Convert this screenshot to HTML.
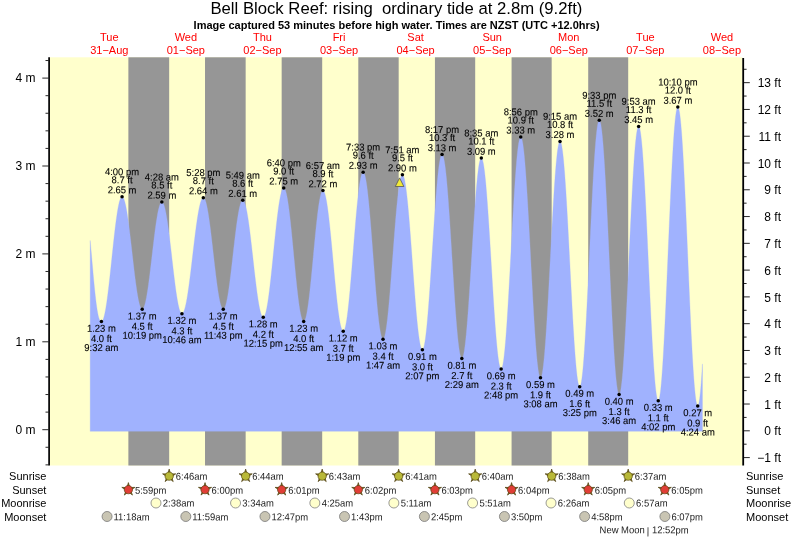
<!DOCTYPE html>
<html lang="en"><head><meta charset="utf-8"><title>Bell Block Reef tide chart</title>
<style>html,body{margin:0;padding:0;background:#fff;}body{width:793px;height:539px;overflow:hidden;font-family:"Liberation Sans",Arial,Helvetica,sans-serif;}svg{display:block;}</style>
</head><body>
<svg width="793" height="539" viewBox="0 0 793 539">
<rect x="0" y="0" width="793" height="539" fill="#fff"/>
<rect x="49.5" y="57.3" width="693.0" height="408.2" fill="#ffffcc"/>
<rect x="128.38" y="57.3" width="40.79" height="408.2" fill="#969696"/>
<rect x="205.02" y="57.3" width="40.63" height="408.2" fill="#969696"/>
<rect x="281.66" y="57.3" width="40.53" height="408.2" fill="#969696"/>
<rect x="358.30" y="57.3" width="40.37" height="408.2" fill="#969696"/>
<rect x="434.93" y="57.3" width="40.26" height="408.2" fill="#969696"/>
<rect x="511.57" y="57.3" width="40.10" height="408.2" fill="#969696"/>
<rect x="588.21" y="57.3" width="39.99" height="408.2" fill="#969696"/>
<path d="M90.20,431.3 L90.20,240.50 L90.45,243.26 L90.70,246.06 L90.95,248.88 L91.20,251.73 L91.45,254.59 L91.70,257.46 L91.95,260.33 L92.20,263.19 L92.45,266.04 L92.70,268.87 L92.95,271.68 L93.20,274.45 L93.45,277.19 L93.70,279.88 L93.95,282.53 L94.20,285.11 L94.45,287.64 L94.70,290.10 L94.95,292.49 L95.20,294.81 L95.45,297.04 L95.70,299.19 L95.95,301.25 L96.20,303.22 L96.45,305.10 L96.70,306.88 L96.95,308.55 L97.20,310.13 L97.45,311.60 L97.70,312.97 L97.95,314.23 L98.20,315.39 L98.45,316.44 L98.70,317.39 L98.95,318.23 L99.20,318.96 L99.45,319.60 L99.70,320.14 L99.95,320.58 L100.20,320.94 L100.45,321.21 L100.70,321.40 L100.95,321.51 L101.20,321.57 L101.45,321.58 L101.70,321.53 L101.95,321.38 L102.20,321.14 L102.45,320.82 L102.70,320.40 L102.95,319.90 L103.20,319.31 L103.45,318.63 L103.70,317.86 L103.95,317.01 L104.20,316.08 L104.45,315.06 L104.70,313.97 L104.95,312.79 L105.20,311.54 L105.45,310.21 L105.70,308.80 L105.95,307.33 L106.20,305.78 L106.45,304.17 L106.70,302.49 L106.95,300.75 L107.20,298.95 L107.45,297.09 L107.70,295.17 L107.95,293.21 L108.20,291.19 L108.45,289.13 L108.70,287.02 L108.95,284.88 L109.20,282.70 L109.45,280.48 L109.70,278.23 L109.95,275.96 L110.20,273.66 L110.45,271.34 L110.70,269.00 L110.95,266.65 L111.20,264.28 L111.45,261.91 L111.70,259.54 L111.95,257.16 L112.20,254.79 L112.45,252.43 L112.70,250.07 L112.95,247.73 L113.20,245.40 L113.45,243.10 L113.70,240.81 L113.95,238.56 L114.20,236.33 L114.45,234.14 L114.70,231.98 L114.95,229.86 L115.20,227.79 L115.45,225.76 L115.70,223.77 L115.95,221.84 L116.20,219.97 L116.45,218.15 L116.70,216.39 L116.95,214.69 L117.20,213.06 L117.45,211.49 L117.70,209.99 L117.95,208.57 L118.20,207.21 L118.45,205.94 L118.70,204.74 L118.95,203.61 L119.20,202.57 L119.45,201.61 L119.70,200.74 L119.95,199.95 L120.20,199.24 L120.45,198.62 L120.70,198.09 L120.95,197.65 L121.20,197.29 L121.45,197.03 L121.70,196.86 L121.95,196.77 L122.20,196.78 L122.45,196.87 L122.70,197.05 L122.95,197.31 L123.20,197.66 L123.45,198.09 L123.70,198.60 L123.95,199.20 L124.20,199.88 L124.45,200.64 L124.70,201.47 L124.95,202.39 L125.20,203.39 L125.45,204.45 L125.70,205.60 L125.95,206.81 L126.20,208.10 L126.45,209.45 L126.70,210.87 L126.95,212.35 L127.20,213.90 L127.45,215.50 L127.70,217.16 L127.95,218.88 L128.20,220.65 L128.45,222.46 L128.70,224.33 L128.95,226.23 L129.20,228.18 L129.45,230.17 L129.70,232.19 L129.95,234.24 L130.20,236.32 L130.45,238.42 L130.70,240.55 L130.95,242.70 L131.20,244.86 L131.45,247.03 L131.70,249.22 L131.95,251.41 L132.20,253.60 L132.45,255.79 L132.70,257.98 L132.95,260.15 L133.20,262.32 L133.45,264.48 L133.70,266.61 L133.95,268.73 L134.20,270.82 L134.45,272.89 L134.70,274.92 L134.95,276.92 L135.20,278.89 L135.45,280.82 L135.70,282.70 L135.95,284.54 L136.20,286.33 L136.45,288.07 L136.70,289.76 L136.95,291.39 L137.20,292.96 L137.45,294.48 L137.70,295.93 L137.95,297.31 L138.20,298.63 L138.45,299.88 L138.70,301.06 L138.95,302.16 L139.20,303.19 L139.45,304.14 L139.70,305.02 L139.95,305.82 L140.20,306.53 L140.45,307.17 L140.70,307.72 L140.95,308.19 L141.20,308.58 L141.45,308.88 L141.70,309.10 L141.95,309.23 L142.20,309.28 L142.45,309.24 L142.70,309.11 L142.95,308.90 L143.20,308.61 L143.45,308.23 L143.70,307.76 L143.95,307.22 L144.20,306.59 L144.45,305.87 L144.70,305.08 L144.95,304.21 L145.20,303.26 L145.45,302.24 L145.70,301.14 L145.95,299.96 L146.20,298.72 L146.45,297.41 L146.70,296.03 L146.95,294.58 L147.20,293.08 L147.45,291.51 L147.70,289.88 L147.95,288.21 L148.20,286.48 L148.45,284.69 L148.70,282.87 L148.95,281.00 L149.20,279.09 L149.45,277.14 L149.70,275.16 L149.95,273.14 L150.20,271.10 L150.45,269.03 L150.70,266.94 L150.95,264.84 L151.20,262.72 L151.45,260.58 L151.70,258.44 L151.95,256.30 L152.20,254.15 L152.45,252.01 L152.70,249.87 L152.95,247.75 L153.20,245.63 L153.45,243.53 L153.70,241.45 L153.95,239.39 L154.20,237.36 L154.45,235.36 L154.70,233.39 L154.95,231.46 L155.20,229.56 L155.45,227.71 L155.70,225.90 L155.95,224.14 L156.20,222.43 L156.45,220.77 L156.70,219.17 L156.95,217.63 L157.20,216.15 L157.45,214.73 L157.70,213.37 L157.95,212.09 L158.20,210.87 L158.45,209.73 L158.70,208.66 L158.95,207.66 L159.20,206.75 L159.45,205.91 L159.70,205.15 L159.95,204.47 L160.20,203.87 L160.45,203.36 L160.70,202.92 L160.95,202.58 L161.20,202.32 L161.45,202.14 L161.70,202.05 L161.95,202.05 L162.20,202.13 L162.45,202.29 L162.70,202.55 L162.95,202.88 L163.20,203.30 L163.45,203.80 L163.70,204.39 L163.95,205.05 L164.20,205.80 L164.45,206.63 L164.70,207.53 L164.95,208.51 L165.20,209.57 L165.45,210.70 L165.70,211.90 L165.95,213.18 L166.20,214.52 L166.45,215.92 L166.70,217.40 L166.95,218.93 L167.20,220.52 L167.45,222.17 L167.70,223.87 L167.95,225.63 L168.20,227.43 L168.45,229.28 L168.70,231.18 L168.95,233.11 L169.20,235.09 L169.45,237.09 L169.70,239.13 L169.95,241.20 L170.20,243.30 L170.45,245.41 L170.70,247.55 L170.95,249.70 L171.20,251.86 L171.45,254.03 L171.70,256.21 L171.95,258.39 L172.20,260.57 L172.45,262.74 L172.70,264.91 L172.95,267.07 L173.20,269.21 L173.45,271.34 L173.70,273.44 L173.95,275.53 L174.20,277.58 L174.45,279.60 L174.70,281.60 L174.95,283.55 L175.20,285.47 L175.45,287.34 L175.70,289.17 L175.95,290.95 L176.20,292.68 L176.45,294.36 L176.70,295.98 L176.95,297.54 L177.20,299.04 L177.45,300.48 L177.70,301.86 L177.95,303.17 L178.20,304.40 L178.45,305.57 L178.70,306.67 L178.95,307.69 L179.20,308.63 L179.45,309.50 L179.70,310.29 L179.95,310.99 L180.20,311.62 L180.45,312.16 L180.70,312.63 L180.95,313.00 L181.20,313.30 L181.45,313.51 L181.70,313.63 L181.95,313.67 L182.20,313.63 L182.45,313.51 L182.70,313.31 L182.95,313.03 L183.20,312.68 L183.45,312.25 L183.70,311.74 L183.95,311.16 L184.20,310.50 L184.45,309.77 L184.70,308.97 L184.95,308.09 L185.20,307.14 L185.45,306.13 L185.70,305.04 L185.95,303.89 L186.20,302.67 L186.45,301.39 L186.70,300.05 L186.95,298.65 L187.20,297.19 L187.45,295.68 L187.70,294.11 L187.95,292.48 L188.20,290.81 L188.45,289.09 L188.70,287.33 L188.95,285.52 L189.20,283.68 L189.45,281.79 L189.70,279.87 L189.95,277.92 L190.20,275.94 L190.45,273.93 L190.70,271.89 L190.95,269.84 L191.20,267.76 L191.45,265.67 L191.70,263.56 L191.95,261.45 L192.20,259.32 L192.45,257.19 L192.70,255.06 L192.95,252.93 L193.20,250.81 L193.45,248.69 L193.70,246.58 L193.95,244.48 L194.20,242.39 L194.45,240.33 L194.70,238.28 L194.95,236.26 L195.20,234.27 L195.45,232.30 L195.70,230.37 L195.95,228.47 L196.20,226.60 L196.45,224.78 L196.70,223.00 L196.95,221.26 L197.20,219.56 L197.45,217.92 L197.70,216.33 L197.95,214.79 L198.20,213.30 L198.45,211.88 L198.70,210.51 L198.95,209.20 L199.20,207.96 L199.45,206.77 L199.70,205.66 L199.95,204.61 L200.20,203.64 L200.45,202.73 L200.70,201.89 L200.95,201.13 L201.20,200.44 L201.45,199.82 L201.70,199.28 L201.95,198.82 L202.20,198.43 L202.45,198.12 L202.70,197.88 L202.95,197.73 L203.20,197.65 L203.45,197.66 L203.70,197.74 L203.95,197.92 L204.20,198.18 L204.45,198.53 L204.70,198.96 L204.95,199.47 L205.20,200.07 L205.45,200.76 L205.70,201.52 L205.95,202.37 L206.20,203.29 L206.45,204.29 L206.70,205.37 L206.95,206.52 L207.20,207.75 L207.45,209.04 L207.70,210.41 L207.95,211.84 L208.20,213.34 L208.45,214.90 L208.70,216.52 L208.95,218.19 L209.20,219.92 L209.45,221.70 L209.70,223.54 L209.95,225.41 L210.20,227.34 L210.45,229.30 L210.70,231.30 L210.95,233.33 L211.20,235.40 L211.45,237.49 L211.70,239.61 L211.95,241.75 L212.20,243.91 L212.45,246.08 L212.70,248.26 L212.95,250.45 L213.20,252.65 L213.45,254.85 L213.70,257.05 L213.95,259.24 L214.20,261.42 L214.45,263.59 L214.70,265.74 L214.95,267.87 L215.20,269.98 L215.45,272.07 L215.70,274.13 L215.95,276.15 L216.20,278.14 L216.45,280.10 L216.70,282.01 L216.95,283.87 L217.20,285.69 L217.45,287.46 L217.70,289.18 L217.95,290.84 L218.20,292.44 L218.45,293.98 L218.70,295.46 L218.95,296.88 L219.20,298.23 L219.45,299.50 L219.70,300.71 L219.95,301.84 L220.20,302.90 L220.45,303.88 L220.70,304.79 L220.95,305.61 L221.20,306.35 L221.45,307.01 L221.70,307.59 L221.95,308.09 L222.20,308.50 L222.45,308.82 L222.70,309.06 L222.95,309.21 L223.20,309.27 L223.45,309.25 L223.70,309.14 L223.95,308.94 L224.20,308.66 L224.45,308.28 L224.70,307.82 L224.95,307.27 L225.20,306.64 L225.45,305.92 L225.70,305.12 L225.95,304.24 L226.20,303.27 L226.45,302.23 L226.70,301.11 L226.95,299.91 L227.20,298.64 L227.45,297.30 L227.70,295.90 L227.95,294.42 L228.20,292.88 L228.45,291.28 L228.70,289.61 L228.95,287.89 L229.20,286.12 L229.45,284.30 L229.70,282.43 L229.95,280.51 L230.20,278.55 L230.45,276.55 L230.70,274.52 L230.95,272.45 L231.20,270.36 L231.45,268.24 L231.70,266.10 L231.95,263.94 L232.20,261.76 L232.45,259.58 L232.70,257.39 L232.95,255.19 L233.20,252.99 L233.45,250.79 L233.70,248.60 L233.95,246.42 L234.20,244.26 L234.45,242.11 L234.70,239.98 L234.95,237.88 L235.20,235.80 L235.45,233.76 L235.70,231.75 L235.95,229.77 L236.20,227.84 L236.45,225.95 L236.70,224.11 L236.95,222.32 L237.20,220.58 L237.45,218.89 L237.70,217.27 L237.95,215.70 L238.20,214.20 L238.45,212.77 L238.70,211.40 L238.95,210.11 L239.20,208.88 L239.45,207.74 L239.70,206.66 L239.95,205.67 L240.20,204.76 L240.45,203.93 L240.70,203.18 L240.95,202.51 L241.20,201.93 L241.45,201.44 L241.70,201.03 L241.95,200.71 L242.20,200.48 L242.45,200.34 L242.70,200.28 L242.95,200.31 L243.20,200.43 L243.45,200.64 L243.70,200.93 L243.95,201.30 L244.20,201.76 L244.45,202.30 L244.70,202.92 L244.95,203.63 L245.20,204.41 L245.45,205.28 L245.70,206.22 L245.95,207.24 L246.20,208.34 L246.45,209.50 L246.70,210.75 L246.95,212.06 L247.20,213.44 L247.45,214.88 L247.70,216.39 L247.95,217.97 L248.20,219.60 L248.45,221.29 L248.70,223.03 L248.95,224.83 L249.20,226.68 L249.45,228.57 L249.70,230.51 L249.95,232.48 L250.20,234.50 L250.45,236.55 L250.70,238.64 L250.95,240.75 L251.20,242.89 L251.45,245.06 L251.70,247.24 L251.95,249.44 L252.20,251.65 L252.45,253.88 L252.70,256.11 L252.95,258.35 L253.20,260.58 L253.45,262.82 L253.70,265.04 L253.95,267.26 L254.20,269.47 L254.45,271.66 L254.70,273.83 L254.95,275.98 L255.20,278.10 L255.45,280.20 L255.70,282.26 L255.95,284.29 L256.20,286.28 L256.45,288.23 L256.70,290.14 L256.95,292.00 L257.20,293.82 L257.45,295.58 L257.70,297.29 L257.95,298.94 L258.20,300.54 L258.45,302.07 L258.70,303.54 L258.95,304.94 L259.20,306.28 L259.45,307.54 L259.70,308.74 L259.95,309.86 L260.20,310.90 L260.45,311.87 L260.70,312.77 L260.95,313.58 L261.20,314.31 L261.45,314.97 L261.70,315.53 L261.95,316.02 L262.20,316.42 L262.45,316.74 L262.70,316.98 L262.95,317.12 L263.20,317.19 L263.45,317.16 L263.70,317.04 L263.95,316.82 L264.20,316.51 L264.45,316.11 L264.70,315.61 L264.95,315.02 L265.20,314.34 L265.45,313.57 L265.70,312.71 L265.95,311.75 L266.20,310.72 L266.45,309.59 L266.70,308.38 L266.95,307.10 L267.20,305.73 L267.45,304.28 L267.70,302.75 L267.95,301.16 L268.20,299.49 L268.45,297.75 L268.70,295.94 L268.95,294.07 L269.20,292.15 L269.45,290.16 L269.70,288.11 L269.95,286.02 L270.20,283.87 L270.45,281.68 L270.70,279.45 L270.95,277.18 L271.20,274.87 L271.45,272.53 L271.70,270.16 L271.95,267.76 L272.20,265.34 L272.45,262.90 L272.70,260.45 L272.95,257.98 L273.20,255.51 L273.45,253.03 L273.70,250.56 L273.95,248.08 L274.20,245.61 L274.45,243.15 L274.70,240.71 L274.95,238.28 L275.20,235.88 L275.45,233.50 L275.70,231.14 L275.95,228.82 L276.20,226.54 L276.45,224.29 L276.70,222.08 L276.95,219.92 L277.20,217.81 L277.45,215.74 L277.70,213.74 L277.95,211.78 L278.20,209.89 L278.45,208.06 L278.70,206.30 L278.95,204.61 L279.20,202.98 L279.45,201.43 L279.70,199.96 L279.95,198.56 L280.20,197.24 L280.45,196.00 L280.70,194.85 L280.95,193.78 L281.20,192.79 L281.45,191.90 L281.70,191.09 L281.95,190.38 L282.20,189.75 L282.45,189.22 L282.70,188.79 L282.95,188.44 L283.20,188.19 L283.45,188.04 L283.70,187.98 L283.95,188.01 L284.20,188.16 L284.45,188.40 L284.70,188.75 L284.95,189.20 L285.20,189.75 L285.45,190.40 L285.70,191.16 L285.95,192.01 L286.20,192.95 L286.45,194.00 L286.70,195.14 L286.95,196.37 L287.20,197.69 L287.45,199.10 L287.70,200.60 L287.95,202.18 L288.20,203.84 L288.45,205.58 L288.70,207.40 L288.95,209.29 L289.20,211.25 L289.45,213.28 L289.70,215.37 L289.95,217.53 L290.20,219.74 L290.45,222.01 L290.70,224.32 L290.95,226.69 L291.20,229.10 L291.45,231.54 L291.70,234.03 L291.95,236.54 L292.20,239.09 L292.45,241.66 L292.70,244.25 L292.95,246.85 L293.20,249.47 L293.45,252.09 L293.70,254.72 L293.95,257.35 L294.20,259.98 L294.45,262.60 L294.70,265.20 L294.95,267.79 L295.20,270.36 L295.45,272.91 L295.70,275.43 L295.95,277.91 L296.20,280.36 L296.45,282.77 L296.70,285.14 L296.95,287.46 L297.20,289.73 L297.45,291.94 L297.70,294.10 L297.95,296.19 L298.20,298.22 L298.45,300.19 L298.70,302.08 L298.95,303.90 L299.20,305.65 L299.45,307.31 L299.70,308.90 L299.95,310.40 L300.20,311.81 L300.45,313.14 L300.70,314.37 L300.95,315.51 L301.20,316.56 L301.45,317.51 L301.70,318.37 L301.95,319.13 L302.20,319.78 L302.45,320.34 L302.70,320.79 L302.95,321.15 L303.20,321.39 L303.45,321.54 L303.70,321.58 L303.95,321.52 L304.20,321.34 L304.45,321.06 L304.70,320.67 L304.95,320.18 L305.20,319.57 L305.45,318.86 L305.70,318.05 L305.95,317.13 L306.20,316.11 L306.45,314.99 L306.70,313.78 L306.95,312.46 L307.20,311.06 L307.45,309.56 L307.70,307.97 L307.95,306.30 L308.20,304.54 L308.45,302.71 L308.70,300.79 L308.95,298.80 L309.20,296.74 L309.45,294.61 L309.70,292.42 L309.95,290.17 L310.20,287.86 L310.45,285.50 L310.70,283.09 L310.95,280.63 L311.20,278.13 L311.45,275.60 L311.70,273.04 L311.95,270.44 L312.20,267.82 L312.45,265.19 L312.70,262.53 L312.95,259.87 L313.20,257.20 L313.45,254.53 L313.70,251.86 L313.95,249.20 L314.20,246.55 L314.45,243.92 L314.70,241.30 L314.95,238.71 L315.20,236.15 L315.45,233.62 L315.70,231.13 L315.95,228.69 L316.20,226.28 L316.45,223.93 L316.70,221.63 L316.95,219.39 L317.20,217.21 L317.45,215.09 L317.70,213.04 L317.95,211.07 L318.20,209.16 L318.45,207.34 L318.70,205.60 L318.95,203.94 L319.20,202.37 L319.45,200.89 L319.70,199.50 L319.95,198.20 L320.20,197.00 L320.45,195.90 L320.70,194.90 L320.95,194.00 L321.20,193.20 L321.45,192.51 L321.70,191.93 L321.95,191.45 L322.20,191.08 L322.45,190.81 L322.70,190.66 L322.95,190.61 L323.20,190.67 L323.45,190.84 L323.70,191.11 L323.95,191.49 L324.20,191.96 L324.45,192.55 L324.70,193.23 L324.95,194.02 L325.20,194.90 L325.45,195.89 L325.70,196.97 L325.95,198.14 L326.20,199.42 L326.45,200.78 L326.70,202.23 L326.95,203.77 L327.20,205.40 L327.45,207.10 L327.70,208.89 L327.95,210.76 L328.20,212.70 L328.45,214.72 L328.70,216.80 L328.95,218.95 L329.20,221.16 L329.45,223.43 L329.70,225.76 L329.95,228.14 L330.20,230.57 L330.45,233.04 L330.70,235.56 L330.95,238.11 L331.20,240.70 L331.45,243.32 L331.70,245.96 L331.95,248.63 L332.20,251.31 L332.45,254.01 L332.70,256.72 L332.95,259.44 L333.20,262.16 L333.45,264.87 L333.70,267.58 L333.95,270.28 L334.20,272.97 L334.45,275.64 L334.70,278.29 L334.95,280.91 L335.20,283.50 L335.45,286.05 L335.70,288.57 L335.95,291.05 L336.20,293.49 L336.45,295.87 L336.70,298.20 L336.95,300.48 L337.20,302.70 L337.45,304.85 L337.70,306.94 L337.95,308.96 L338.20,310.91 L338.45,312.79 L338.70,314.58 L338.95,316.30 L339.20,317.94 L339.45,319.48 L339.70,320.95 L339.95,322.32 L340.20,323.60 L340.45,324.78 L340.70,325.87 L340.95,326.87 L341.20,327.76 L341.45,328.56 L341.70,329.25 L341.95,329.85 L342.20,330.34 L342.45,330.72 L342.70,331.00 L342.95,331.18 L343.20,331.25 L343.45,331.21 L343.70,331.05 L343.95,330.76 L344.20,330.35 L344.45,329.82 L344.70,329.16 L344.95,328.39 L345.20,327.49 L345.45,326.48 L345.70,325.35 L345.95,324.10 L346.20,322.75 L346.45,321.28 L346.70,319.70 L346.95,318.02 L347.20,316.23 L347.45,314.35 L347.70,312.36 L347.95,310.28 L348.20,308.11 L348.45,305.86 L348.70,303.51 L348.95,301.09 L349.20,298.59 L349.45,296.02 L349.70,293.37 L349.95,290.67 L350.20,287.90 L350.45,285.07 L350.70,282.20 L350.95,279.27 L351.20,276.31 L351.45,273.30 L351.70,270.26 L351.95,267.19 L352.20,264.10 L352.45,260.99 L352.70,257.86 L352.95,254.73 L353.20,251.59 L353.45,248.45 L353.70,245.31 L353.95,242.19 L354.20,239.08 L354.45,235.99 L354.70,232.92 L354.95,229.88 L355.20,226.88 L355.45,223.92 L355.70,220.99 L355.95,218.12 L356.20,215.30 L356.45,212.54 L356.70,209.83 L356.95,207.20 L357.20,204.63 L357.45,202.13 L357.70,199.72 L357.95,197.38 L358.20,195.13 L358.45,192.96 L358.70,190.89 L358.95,188.92 L359.20,187.04 L359.45,185.26 L359.70,183.58 L359.95,182.01 L360.20,180.55 L360.45,179.21 L360.70,177.97 L360.95,176.85 L361.20,175.84 L361.45,174.96 L361.70,174.19 L361.95,173.54 L362.20,173.02 L362.45,172.62 L362.70,172.34 L362.95,172.19 L363.20,172.16 L363.45,172.26 L363.70,172.48 L363.95,172.84 L364.20,173.33 L364.45,173.94 L364.70,174.69 L364.95,175.56 L365.20,176.55 L365.45,177.67 L365.70,178.91 L365.95,180.27 L366.20,181.74 L366.45,183.33 L366.70,185.04 L366.95,186.85 L367.20,188.77 L367.45,190.80 L367.70,192.93 L367.95,195.15 L368.20,197.47 L368.45,199.88 L368.70,202.37 L368.95,204.95 L369.20,207.61 L369.45,210.35 L369.70,213.15 L369.95,216.02 L370.20,218.95 L370.45,221.94 L370.70,224.99 L370.95,228.08 L371.20,231.21 L371.45,234.38 L371.70,237.58 L371.95,240.82 L372.20,244.07 L372.45,247.35 L372.70,250.63 L372.95,253.93 L373.20,257.22 L373.45,260.52 L373.70,263.80 L373.95,267.08 L374.20,270.34 L374.45,273.57 L374.70,276.77 L374.95,279.95 L375.20,283.08 L375.45,286.17 L375.70,289.22 L375.95,292.21 L376.20,295.15 L376.45,298.02 L376.70,300.83 L376.95,303.57 L377.20,306.23 L377.45,308.81 L377.70,311.31 L377.95,313.73 L378.20,316.05 L378.45,318.28 L378.70,320.41 L378.95,322.44 L379.20,324.37 L379.45,326.19 L379.70,327.90 L379.95,329.50 L380.20,330.98 L380.45,332.34 L380.70,333.59 L380.95,334.71 L381.20,335.71 L381.45,336.59 L381.70,337.34 L381.95,337.96 L382.20,338.45 L382.45,338.82 L382.70,339.05 L382.95,339.16 L383.20,339.13 L383.45,338.97 L383.70,338.67 L383.95,338.24 L384.20,337.68 L384.45,336.98 L384.70,336.15 L384.95,335.19 L385.20,334.10 L385.45,332.89 L385.70,331.55 L385.95,330.09 L386.20,328.50 L386.45,326.80 L386.70,324.99 L386.95,323.06 L387.20,321.02 L387.45,318.88 L387.70,316.64 L387.95,314.30 L388.20,311.86 L388.45,309.33 L388.70,306.72 L388.95,304.03 L389.20,301.26 L389.45,298.41 L389.70,295.50 L389.95,292.52 L390.20,289.49 L390.45,286.40 L390.70,283.26 L390.95,280.08 L391.20,276.86 L391.45,273.61 L391.70,270.33 L391.95,267.03 L392.20,263.72 L392.45,260.39 L392.70,257.06 L392.95,253.72 L393.20,250.39 L393.45,247.08 L393.70,243.78 L393.95,240.50 L394.20,237.24 L394.45,234.03 L394.70,230.84 L394.95,227.70 L395.20,224.61 L395.45,221.58 L395.70,218.60 L395.95,215.68 L396.20,212.83 L396.45,210.06 L396.70,207.36 L396.95,204.74 L397.20,202.21 L397.45,199.77 L397.70,197.42 L397.95,195.18 L398.20,193.03 L398.45,190.99 L398.70,189.06 L398.95,187.23 L399.20,185.53 L399.45,183.94 L399.70,182.47 L399.95,181.13 L400.20,179.90 L400.45,178.81 L400.70,177.84 L400.95,177.01 L401.20,176.31 L401.45,175.73 L401.70,175.30 L401.95,175.00 L402.20,174.83 L402.45,174.79 L402.70,174.90 L402.95,175.13 L403.20,175.51 L403.45,176.01 L403.70,176.65 L403.95,177.42 L404.20,178.32 L404.45,179.35 L404.70,180.51 L404.95,181.79 L405.20,183.20 L405.45,184.73 L405.70,186.38 L405.95,188.15 L406.20,190.03 L406.45,192.02 L406.70,194.13 L406.95,196.33 L407.20,198.64 L407.45,201.05 L407.70,203.55 L407.95,206.14 L408.20,208.81 L408.45,211.57 L408.70,214.41 L408.95,217.32 L409.20,220.31 L409.45,223.35 L409.70,226.46 L409.95,229.62 L410.20,232.83 L410.45,236.09 L410.70,239.38 L410.95,242.72 L411.20,246.08 L411.45,249.47 L411.70,252.87 L411.95,256.29 L412.20,259.73 L412.45,263.16 L412.70,266.59 L412.95,270.02 L413.20,273.43 L413.45,276.83 L413.70,280.21 L413.95,283.55 L414.20,286.87 L414.45,290.14 L414.70,293.38 L414.95,296.56 L415.20,299.70 L415.45,302.77 L415.70,305.78 L415.95,308.73 L416.20,311.60 L416.45,314.40 L416.70,317.11 L416.95,319.75 L417.20,322.29 L417.45,324.74 L417.70,327.10 L417.95,329.35 L418.20,331.50 L418.45,333.55 L418.70,335.48 L418.95,337.30 L419.20,339.01 L419.45,340.59 L419.70,342.06 L419.95,343.40 L420.20,344.62 L420.45,345.71 L420.70,346.67 L420.95,347.51 L421.20,348.21 L421.45,348.77 L421.70,349.21 L421.95,349.51 L422.20,349.68 L422.45,349.71 L422.70,349.59 L422.95,349.31 L423.20,348.88 L423.45,348.30 L423.70,347.56 L423.95,346.67 L424.20,345.63 L424.45,344.44 L424.70,343.11 L424.95,341.63 L425.20,340.00 L425.45,338.24 L425.70,336.34 L425.95,334.31 L426.20,332.14 L426.45,329.85 L426.70,327.43 L426.95,324.90 L427.20,322.25 L427.45,319.48 L427.70,316.61 L427.95,313.64 L428.20,310.57 L428.45,307.40 L428.70,304.15 L428.95,300.81 L429.20,297.40 L429.45,293.91 L429.70,290.36 L429.95,286.75 L430.20,283.08 L430.45,279.37 L430.70,275.61 L430.95,271.81 L431.20,267.98 L431.45,264.12 L431.70,260.25 L431.95,256.37 L432.20,252.47 L432.45,248.58 L432.70,244.69 L432.95,240.82 L433.20,236.96 L433.45,233.12 L433.70,229.32 L433.95,225.55 L434.20,221.83 L434.45,218.15 L434.70,214.53 L434.95,210.97 L435.20,207.47 L435.45,204.04 L435.70,200.70 L435.95,197.43 L436.20,194.25 L436.45,191.16 L436.70,188.17 L436.95,185.28 L437.20,182.50 L437.45,179.83 L437.70,177.27 L437.95,174.84 L438.20,172.52 L438.45,170.34 L438.70,168.28 L438.95,166.36 L439.20,164.57 L439.45,162.92 L439.70,161.42 L439.95,160.06 L440.20,158.84 L440.45,157.78 L440.70,156.86 L440.95,156.10 L441.20,155.49 L441.45,155.04 L441.70,154.73 L441.95,154.59 L442.20,154.60 L442.45,154.77 L442.70,155.10 L442.95,155.59 L443.20,156.24 L443.45,157.05 L443.70,158.01 L443.95,159.13 L444.20,160.40 L444.45,161.83 L444.70,163.40 L444.95,165.12 L445.20,166.99 L445.45,168.99 L445.70,171.14 L445.95,173.41 L446.20,175.82 L446.45,178.36 L446.70,181.02 L446.95,183.80 L447.20,186.69 L447.45,189.69 L447.70,192.80 L447.95,196.01 L448.20,199.32 L448.45,202.71 L448.70,206.19 L448.95,209.75 L449.20,213.38 L449.45,217.08 L449.70,220.84 L449.95,224.66 L450.20,228.53 L450.45,232.44 L450.70,236.40 L450.95,240.38 L451.20,244.39 L451.45,248.41 L451.70,252.45 L451.95,256.50 L452.20,260.55 L452.45,264.59 L452.70,268.62 L452.95,272.62 L453.20,276.61 L453.45,280.56 L453.70,284.47 L453.95,288.34 L454.20,292.16 L454.45,295.93 L454.70,299.63 L454.95,303.26 L455.20,306.82 L455.45,310.30 L455.70,313.70 L455.95,317.00 L456.20,320.22 L456.45,323.33 L456.70,326.33 L456.95,329.23 L457.20,332.01 L457.45,334.67 L457.70,337.21 L457.95,339.62 L458.20,341.90 L458.45,344.05 L458.70,346.05 L458.95,347.92 L459.20,349.64 L459.45,351.22 L459.70,352.65 L459.95,353.92 L460.20,355.04 L460.45,356.01 L460.70,356.82 L460.95,357.47 L461.20,357.97 L461.45,358.30 L461.70,358.47 L461.95,358.49 L462.20,358.34 L462.45,358.02 L462.70,357.55 L462.95,356.91 L463.20,356.11 L463.45,355.15 L463.70,354.04 L463.95,352.77 L464.20,351.35 L464.45,349.77 L464.70,348.04 L464.95,346.17 L465.20,344.16 L465.45,342.01 L465.70,339.72 L465.95,337.29 L466.20,334.74 L466.45,332.07 L466.70,329.27 L466.95,326.36 L467.20,323.34 L467.45,320.21 L467.70,316.98 L467.95,313.66 L468.20,310.24 L468.45,306.75 L468.70,303.17 L468.95,299.52 L469.20,295.80 L469.45,292.02 L469.70,288.19 L469.95,284.30 L470.20,280.38 L470.45,276.42 L470.70,272.43 L470.95,268.42 L471.20,264.39 L471.45,260.35 L471.70,256.30 L471.95,252.26 L472.20,248.23 L472.45,244.22 L472.70,240.23 L472.95,236.27 L473.20,232.34 L473.45,228.46 L473.70,224.63 L473.95,220.85 L474.20,217.13 L474.45,213.48 L474.70,209.90 L474.95,206.40 L475.20,202.98 L475.45,199.66 L475.70,196.43 L475.95,193.30 L476.20,190.27 L476.45,187.36 L476.70,184.56 L476.95,181.89 L477.20,179.33 L477.45,176.91 L477.70,174.62 L477.95,172.46 L478.20,170.44 L478.45,168.57 L478.70,166.85 L478.95,165.27 L479.20,163.84 L479.45,162.57 L479.70,161.45 L479.95,160.49 L480.20,159.69 L480.45,159.05 L480.70,158.57 L480.95,158.26 L481.20,158.10 L481.45,158.12 L481.70,158.29 L481.95,158.63 L482.20,159.14 L482.45,159.81 L482.70,160.64 L482.95,161.63 L483.20,162.78 L483.45,164.09 L483.70,165.56 L483.95,167.18 L484.20,168.95 L484.45,170.87 L484.70,172.93 L484.95,175.14 L485.20,177.49 L485.45,179.97 L485.70,182.58 L485.95,185.31 L486.20,188.18 L486.45,191.15 L486.70,194.25 L486.95,197.45 L487.20,200.75 L487.45,204.16 L487.70,207.65 L487.95,211.24 L488.20,214.90 L488.45,218.64 L488.70,222.46 L488.95,226.33 L489.20,230.27 L489.45,234.26 L489.70,238.29 L489.95,242.36 L490.20,246.47 L490.45,250.60 L490.70,254.76 L490.95,258.92 L491.20,263.10 L491.45,267.27 L491.70,271.44 L491.95,275.60 L492.20,279.74 L492.45,283.85 L492.70,287.93 L492.95,291.98 L493.20,295.98 L493.45,299.92 L493.70,303.81 L493.95,307.64 L494.20,311.40 L494.45,315.08 L494.70,318.69 L494.95,322.20 L495.20,325.63 L495.45,328.96 L495.70,332.18 L495.95,335.30 L496.20,338.30 L496.45,341.19 L496.70,343.96 L496.95,346.60 L497.20,349.11 L497.45,351.48 L497.70,353.72 L497.95,355.82 L498.20,357.77 L498.45,359.57 L498.70,361.23 L498.95,362.73 L499.20,364.08 L499.45,365.26 L499.70,366.29 L499.95,367.16 L500.20,367.87 L500.45,368.41 L500.70,368.79 L500.95,369.00 L501.20,369.04 L501.45,368.91 L501.70,368.59 L501.95,368.09 L502.20,367.39 L502.45,366.52 L502.70,365.46 L502.95,364.22 L503.20,362.80 L503.45,361.21 L503.70,359.44 L503.95,357.50 L504.20,355.39 L504.45,353.12 L504.70,350.68 L504.95,348.09 L505.20,345.35 L505.45,342.45 L505.70,339.41 L505.95,336.24 L506.20,332.93 L506.45,329.49 L506.70,325.92 L506.95,322.24 L507.20,318.45 L507.45,314.56 L507.70,310.56 L507.95,306.47 L508.20,302.30 L508.45,298.04 L508.70,293.72 L508.95,289.33 L509.20,284.87 L509.45,280.37 L509.70,275.83 L509.95,271.24 L510.20,266.63 L510.45,262.00 L510.70,257.35 L510.95,252.70 L511.20,248.04 L511.45,243.39 L511.70,238.76 L511.95,234.16 L512.20,229.58 L512.45,225.04 L512.70,220.54 L512.95,216.10 L513.20,211.72 L513.45,207.40 L513.70,203.16 L513.95,198.99 L514.20,194.92 L514.45,190.93 L514.70,187.05 L514.95,183.28 L515.20,179.61 L515.45,176.07 L515.70,172.64 L515.95,169.35 L516.20,166.19 L516.45,163.18 L516.70,160.30 L516.95,157.58 L517.20,155.01 L517.45,152.60 L517.70,150.35 L517.95,148.26 L518.20,146.34 L518.45,144.60 L518.70,143.03 L518.95,141.64 L519.20,140.42 L519.45,139.39 L519.70,138.54 L519.95,137.87 L520.20,137.39 L520.45,137.10 L520.70,136.99 L520.95,137.07 L521.20,137.35 L521.45,137.81 L521.70,138.45 L521.95,139.29 L522.20,140.31 L522.45,141.52 L522.70,142.91 L522.95,144.48 L523.20,146.22 L523.45,148.15 L523.70,150.24 L523.95,152.50 L524.20,154.93 L524.45,157.52 L524.70,160.27 L524.95,163.17 L525.20,166.22 L525.45,169.42 L525.70,172.75 L525.95,176.21 L526.20,179.81 L526.45,183.52 L526.70,187.35 L526.95,191.30 L527.20,195.34 L527.45,199.49 L527.70,203.72 L527.95,208.04 L528.20,212.44 L528.45,216.91 L528.70,221.44 L528.95,226.03 L529.20,230.67 L529.45,235.35 L529.70,240.07 L529.95,244.81 L530.20,249.57 L530.45,254.35 L530.70,259.13 L530.95,263.91 L531.20,268.67 L531.45,273.42 L531.70,278.15 L531.95,282.84 L532.20,287.49 L532.45,292.10 L532.70,296.65 L532.95,301.13 L533.20,305.55 L533.45,309.89 L533.70,314.16 L533.95,318.33 L534.20,322.40 L534.45,326.37 L534.70,330.24 L534.95,333.99 L535.20,337.61 L535.45,341.12 L535.70,344.49 L535.95,347.72 L536.20,350.81 L536.45,353.75 L536.70,356.55 L536.95,359.18 L537.20,361.66 L537.45,363.97 L537.70,366.11 L537.95,368.08 L538.20,369.88 L538.45,371.50 L538.70,372.94 L538.95,374.20 L539.20,375.27 L539.45,376.16 L539.70,376.86 L539.95,377.38 L540.20,377.70 L540.45,377.83 L540.70,377.78 L540.95,377.53 L541.20,377.09 L541.45,376.47 L541.70,375.65 L541.95,374.64 L542.20,373.45 L542.45,372.08 L542.70,370.52 L542.95,368.78 L543.20,366.87 L543.45,364.78 L543.70,362.52 L543.95,360.10 L544.20,357.51 L544.45,354.77 L544.70,351.87 L544.95,348.82 L545.20,345.62 L545.45,342.29 L545.70,338.83 L545.95,335.23 L546.20,331.51 L546.45,327.68 L546.70,323.74 L546.95,319.69 L547.20,315.54 L547.45,311.31 L547.70,306.99 L547.95,302.59 L548.20,298.13 L548.45,293.60 L548.70,289.02 L548.95,284.39 L549.20,279.72 L549.45,275.01 L549.70,270.29 L549.95,265.54 L550.20,260.79 L550.45,256.03 L550.70,251.28 L550.95,246.54 L551.20,241.82 L551.45,237.14 L551.70,232.49 L551.95,227.88 L552.20,223.32 L552.45,218.83 L552.70,214.40 L552.95,210.04 L553.20,205.76 L553.45,201.57 L553.70,197.47 L553.95,193.48 L554.20,189.59 L554.45,185.81 L554.70,182.16 L554.95,178.63 L555.20,175.23 L555.45,171.97 L555.70,168.84 L555.95,165.87 L556.20,163.05 L556.45,160.38 L556.70,157.88 L556.95,155.54 L557.20,153.37 L557.45,151.37 L557.70,149.54 L557.95,147.89 L558.20,146.43 L558.45,145.15 L558.70,144.05 L558.95,143.14 L559.20,142.42 L559.45,141.89 L559.70,141.55 L559.95,141.40 L560.20,141.44 L560.45,141.68 L560.70,142.11 L560.95,142.73 L561.20,143.55 L561.45,144.57 L561.70,145.77 L561.95,147.16 L562.20,148.73 L562.45,150.49 L562.70,152.44 L562.95,154.55 L563.20,156.85 L563.45,159.31 L563.70,161.94 L563.95,164.73 L564.20,167.68 L564.45,170.79 L564.70,174.04 L564.95,177.44 L565.20,180.97 L565.45,184.64 L565.70,188.43 L565.95,192.34 L566.20,196.37 L566.45,200.51 L566.70,204.74 L566.95,209.07 L567.20,213.49 L567.45,217.99 L567.70,222.56 L567.95,227.20 L568.20,231.90 L568.45,236.64 L568.70,241.44 L568.95,246.26 L569.20,251.12 L569.45,255.99 L569.70,260.88 L569.95,265.78 L570.20,270.67 L570.45,275.55 L570.70,280.41 L570.95,285.25 L571.20,290.05 L571.45,294.81 L571.70,299.52 L571.95,304.17 L572.20,308.77 L572.45,313.29 L572.70,317.73 L572.95,322.08 L573.20,326.34 L573.45,330.51 L573.70,334.57 L573.95,338.51 L574.20,342.34 L574.45,346.04 L574.70,349.61 L574.95,353.05 L575.20,356.34 L575.45,359.49 L575.70,362.48 L575.95,365.32 L576.20,367.99 L576.45,370.50 L576.70,372.84 L576.95,375.01 L577.20,377.00 L577.45,378.81 L577.70,380.44 L577.95,381.88 L578.20,383.14 L578.45,384.20 L578.70,385.07 L578.95,385.75 L579.20,386.24 L579.45,386.53 L579.70,386.63 L579.95,386.52 L580.20,386.20 L580.45,385.66 L580.70,384.91 L580.95,383.95 L581.20,382.78 L581.45,381.40 L581.70,379.82 L581.95,378.03 L582.20,376.04 L582.45,373.85 L582.70,371.47 L582.95,368.90 L583.20,366.14 L583.45,363.21 L583.70,360.09 L583.95,356.80 L584.20,353.35 L584.45,349.74 L584.70,345.97 L584.95,342.05 L585.20,337.99 L585.45,333.80 L585.70,329.47 L585.95,325.02 L586.20,320.46 L586.45,315.79 L586.70,311.02 L586.95,306.15 L587.20,301.20 L587.45,296.18 L587.70,291.08 L587.95,285.93 L588.20,280.72 L588.45,275.47 L588.70,270.18 L588.95,264.87 L589.20,259.54 L589.45,254.19 L589.70,248.85 L589.95,243.52 L590.20,238.20 L590.45,232.90 L590.70,227.64 L590.95,222.42 L591.20,217.25 L591.45,212.14 L591.70,207.09 L591.95,202.12 L592.20,197.23 L592.45,192.43 L592.70,187.73 L592.95,183.14 L593.20,178.66 L593.45,174.30 L593.70,170.07 L593.95,165.97 L594.20,162.01 L594.45,158.20 L594.70,154.55 L594.95,151.05 L595.20,147.72 L595.45,144.55 L595.70,141.57 L595.95,138.76 L596.20,136.14 L596.45,133.70 L596.70,131.46 L596.95,129.42 L597.20,127.58 L597.45,125.93 L597.70,124.50 L597.95,123.27 L598.20,122.25 L598.45,121.44 L598.70,120.85 L598.95,120.47 L599.20,120.30 L599.45,120.35 L599.70,120.61 L599.95,121.09 L600.20,121.78 L600.45,122.68 L600.70,123.79 L600.95,125.12 L601.20,126.65 L601.45,128.38 L601.70,130.32 L601.95,132.46 L602.20,134.79 L602.45,137.32 L602.70,140.03 L602.95,142.93 L603.20,146.00 L603.45,149.25 L603.70,152.68 L603.95,156.26 L604.20,160.00 L604.45,163.90 L604.70,167.94 L604.95,172.13 L605.20,176.44 L605.45,180.89 L605.70,185.45 L605.95,190.13 L606.20,194.91 L606.45,199.79 L606.70,204.76 L606.95,209.81 L607.20,214.94 L607.45,220.13 L607.70,225.39 L607.95,230.69 L608.20,236.03 L608.45,241.41 L608.70,246.81 L608.95,252.23 L609.20,257.66 L609.45,263.09 L609.70,268.51 L609.95,273.91 L610.20,279.28 L610.45,284.62 L610.70,289.92 L610.95,295.17 L611.20,300.36 L611.45,305.48 L611.70,310.52 L611.95,315.49 L612.20,320.36 L612.45,325.13 L612.70,329.80 L612.95,334.35 L613.20,338.78 L613.45,343.09 L613.70,347.26 L613.95,351.29 L614.20,355.17 L614.45,358.90 L614.70,362.47 L614.95,365.88 L615.20,369.11 L615.45,372.17 L615.70,375.05 L615.95,377.75 L616.20,380.26 L616.45,382.57 L616.70,384.69 L616.95,386.61 L617.20,388.33 L617.45,389.84 L617.70,391.15 L617.95,392.24 L618.20,393.13 L618.45,393.80 L618.70,394.25 L618.95,394.50 L619.20,394.53 L619.45,394.34 L619.70,393.93 L619.95,393.31 L620.20,392.47 L620.45,391.42 L620.70,390.16 L620.95,388.69 L621.20,387.01 L621.45,385.12 L621.70,383.04 L621.95,380.75 L622.20,378.27 L622.45,375.60 L622.70,372.75 L622.95,369.71 L623.20,366.49 L623.45,363.11 L623.70,359.55 L623.95,355.84 L624.20,351.97 L624.45,347.96 L624.70,343.80 L624.95,339.51 L625.20,335.09 L625.45,330.55 L625.70,325.89 L625.95,321.13 L626.20,316.28 L626.45,311.33 L626.70,306.30 L626.95,301.19 L627.20,296.02 L627.45,290.79 L627.70,285.51 L627.95,280.20 L628.20,274.85 L628.45,269.47 L628.70,264.09 L628.95,258.69 L629.20,253.30 L629.45,247.92 L629.70,242.56 L629.95,237.24 L630.20,231.94 L630.45,226.70 L630.70,221.51 L630.95,216.38 L631.20,211.32 L631.45,206.35 L631.70,201.46 L631.95,196.66 L632.20,191.97 L632.45,187.39 L632.70,182.93 L632.95,178.60 L633.20,174.39 L633.45,170.33 L633.70,166.41 L633.95,162.65 L634.20,159.04 L634.45,155.60 L634.70,152.33 L634.95,149.23 L635.20,146.31 L635.45,143.58 L635.70,141.04 L635.95,138.69 L636.20,136.53 L636.45,134.58 L636.70,132.83 L636.95,131.29 L637.20,129.96 L637.45,128.84 L637.70,127.93 L637.95,127.24 L638.20,126.76 L638.45,126.50 L638.70,126.45 L638.95,126.63 L639.20,127.02 L639.45,127.64 L639.70,128.47 L639.95,129.51 L640.20,130.78 L640.45,132.25 L640.70,133.94 L640.95,135.83 L641.20,137.92 L641.45,140.22 L641.70,142.72 L641.95,145.41 L642.20,148.29 L642.45,151.35 L642.70,154.59 L642.95,158.01 L643.20,161.60 L643.45,165.35 L643.70,169.25 L643.95,173.31 L644.20,177.51 L644.45,181.85 L644.70,186.32 L644.95,190.92 L645.20,195.63 L645.45,200.45 L645.70,205.37 L645.95,210.39 L646.20,215.49 L646.45,220.66 L646.70,225.91 L646.95,231.21 L647.20,236.57 L647.45,241.97 L647.70,247.41 L647.95,252.87 L648.20,258.34 L648.45,263.83 L648.70,269.32 L648.95,274.79 L649.20,280.25 L649.45,285.69 L649.70,291.08 L649.95,296.44 L650.20,301.74 L650.45,306.97 L650.70,312.14 L650.95,317.24 L651.20,322.24 L651.45,327.15 L651.70,331.96 L651.95,336.66 L652.20,341.25 L652.45,345.71 L652.70,350.03 L652.95,354.22 L653.20,358.27 L653.45,362.16 L653.70,365.89 L653.95,369.46 L654.20,372.86 L654.45,376.09 L654.70,379.14 L654.95,382.00 L655.20,384.67 L655.45,387.14 L655.70,389.42 L655.95,391.50 L656.20,393.37 L656.45,395.04 L656.70,396.49 L656.95,397.73 L657.20,398.76 L657.45,399.57 L657.70,400.16 L657.95,400.53 L658.20,400.69 L658.45,400.62 L658.70,400.31 L658.95,399.77 L659.20,398.99 L659.45,397.98 L659.70,396.74 L659.95,395.26 L660.20,393.56 L660.45,391.64 L660.70,389.49 L660.95,387.12 L661.20,384.54 L661.45,381.75 L661.70,378.76 L661.95,375.56 L662.20,372.17 L662.45,368.58 L662.70,364.81 L662.95,360.87 L663.20,356.75 L663.45,352.46 L663.70,348.02 L663.95,343.42 L664.20,338.69 L664.45,333.81 L664.70,328.81 L664.95,323.68 L665.20,318.44 L665.45,313.10 L665.70,307.66 L665.95,302.14 L666.20,296.54 L666.45,290.87 L666.70,285.14 L666.95,279.36 L667.20,273.54 L667.45,267.69 L667.70,261.82 L667.95,255.93 L668.20,250.04 L668.45,244.15 L668.70,238.29 L668.95,232.44 L669.20,226.63 L669.45,220.87 L669.70,215.16 L669.95,209.51 L670.20,203.93 L670.45,198.43 L670.70,193.03 L670.95,187.72 L671.20,182.51 L671.45,177.42 L671.70,172.46 L671.95,167.62 L672.20,162.93 L672.45,158.38 L672.70,153.99 L672.95,149.75 L673.20,145.69 L673.45,141.79 L673.70,138.08 L673.95,134.56 L674.20,131.22 L674.45,128.09 L674.70,125.16 L674.95,122.43 L675.20,119.92 L675.45,117.62 L675.70,115.54 L675.95,113.68 L676.20,112.05 L676.45,110.65 L676.70,109.48 L676.95,108.54 L677.20,107.84 L677.45,107.37 L677.70,107.14 L677.95,107.14 L678.20,107.37 L678.45,107.84 L678.70,108.54 L678.95,109.47 L679.20,110.63 L679.45,112.02 L679.70,113.63 L679.95,115.47 L680.20,117.53 L680.45,119.80 L680.70,122.28 L680.95,124.98 L681.20,127.88 L681.45,130.98 L681.70,134.27 L681.95,137.76 L682.20,141.43 L682.45,145.28 L682.70,149.31 L682.95,153.50 L683.20,157.85 L683.45,162.36 L683.70,167.01 L683.95,171.81 L684.20,176.73 L684.45,181.78 L684.70,186.95 L684.95,192.22 L685.20,197.60 L685.45,203.06 L685.70,208.61 L685.95,214.24 L686.20,219.93 L686.45,225.67 L686.70,231.47 L686.95,237.31 L687.20,243.17 L687.45,249.06 L687.70,254.95 L687.95,260.85 L688.20,266.75 L688.45,272.62 L688.70,278.47 L688.95,284.29 L689.20,290.07 L689.45,295.79 L689.70,301.45 L689.95,307.04 L690.20,312.55 L690.45,317.98 L690.70,323.31 L690.95,328.53 L691.20,333.65 L691.45,338.64 L691.70,343.50 L691.95,348.23 L692.20,352.82 L692.45,357.26 L692.70,361.53 L692.95,365.65 L693.20,369.60 L693.45,373.36 L693.70,376.95 L693.95,380.35 L694.20,383.56 L694.45,386.56 L694.70,389.37 L694.95,391.97 L695.20,394.36 L695.45,396.53 L695.70,398.48 L695.95,400.22 L696.20,401.72 L696.45,403.01 L696.70,404.06 L696.95,404.88 L697.20,405.48 L697.45,405.84 L697.70,405.97 L697.95,405.86 L698.20,405.50 L698.45,404.90 L698.70,404.05 L698.95,402.96 L699.20,401.63 L699.45,400.06 L699.70,398.25 L699.95,396.21 L700.20,393.94 L700.45,391.44 L700.70,388.72 L700.95,385.78 L701.20,382.64 L701.45,379.28 L701.70,375.72 L701.95,371.97 L702.20,368.02 L702.45,363.90 L702.45,431.3 Z" fill="#a0b2fe" stroke="#a0b2fe" stroke-width="0.3" stroke-linejoin="round"/>
<g stroke="#000" fill="none">
<line x1="49.1" y1="57.3" x2="49.1" y2="465.5" stroke-width="1.7"/>
<line x1="743.2" y1="58.099999999999994" x2="743.2" y2="465.5" stroke-width="1.8"/>
<line x1="45.5" y1="464.86" x2="48.5" y2="464.86" stroke-width="0.85"/>
<line x1="45.5" y1="447.28" x2="48.5" y2="447.28" stroke-width="0.85"/>
<line x1="42.3" y1="429.70" x2="48.5" y2="429.70" stroke-width="0.85"/>
<line x1="45.5" y1="412.12" x2="48.5" y2="412.12" stroke-width="0.85"/>
<line x1="45.5" y1="394.54" x2="48.5" y2="394.54" stroke-width="0.85"/>
<line x1="45.5" y1="376.96" x2="48.5" y2="376.96" stroke-width="0.85"/>
<line x1="45.5" y1="359.38" x2="48.5" y2="359.38" stroke-width="0.85"/>
<line x1="42.3" y1="341.80" x2="48.5" y2="341.80" stroke-width="0.85"/>
<line x1="45.5" y1="324.22" x2="48.5" y2="324.22" stroke-width="0.85"/>
<line x1="45.5" y1="306.64" x2="48.5" y2="306.64" stroke-width="0.85"/>
<line x1="45.5" y1="289.06" x2="48.5" y2="289.06" stroke-width="0.85"/>
<line x1="45.5" y1="271.48" x2="48.5" y2="271.48" stroke-width="0.85"/>
<line x1="42.3" y1="253.90" x2="48.5" y2="253.90" stroke-width="0.85"/>
<line x1="45.5" y1="236.32" x2="48.5" y2="236.32" stroke-width="0.85"/>
<line x1="45.5" y1="218.74" x2="48.5" y2="218.74" stroke-width="0.85"/>
<line x1="45.5" y1="201.16" x2="48.5" y2="201.16" stroke-width="0.85"/>
<line x1="45.5" y1="183.58" x2="48.5" y2="183.58" stroke-width="0.85"/>
<line x1="42.3" y1="166.00" x2="48.5" y2="166.00" stroke-width="0.85"/>
<line x1="45.5" y1="148.42" x2="48.5" y2="148.42" stroke-width="0.85"/>
<line x1="45.5" y1="130.84" x2="48.5" y2="130.84" stroke-width="0.85"/>
<line x1="45.5" y1="113.26" x2="48.5" y2="113.26" stroke-width="0.85"/>
<line x1="45.5" y1="95.68" x2="48.5" y2="95.68" stroke-width="0.85"/>
<line x1="42.3" y1="78.10" x2="48.5" y2="78.10" stroke-width="0.85"/>
<line x1="45.5" y1="60.52" x2="48.5" y2="60.52" stroke-width="0.85"/>
<line x1="744" y1="457.58" x2="749.8" y2="457.58" stroke-width="0.85"/>
<line x1="744" y1="444.19" x2="746.6" y2="444.19" stroke-width="0.85"/>
<line x1="744" y1="430.80" x2="749.8" y2="430.80" stroke-width="0.85"/>
<line x1="744" y1="417.41" x2="746.6" y2="417.41" stroke-width="0.85"/>
<line x1="744" y1="404.02" x2="749.8" y2="404.02" stroke-width="0.85"/>
<line x1="744" y1="390.63" x2="746.6" y2="390.63" stroke-width="0.85"/>
<line x1="744" y1="377.24" x2="749.8" y2="377.24" stroke-width="0.85"/>
<line x1="744" y1="363.85" x2="746.6" y2="363.85" stroke-width="0.85"/>
<line x1="744" y1="350.46" x2="749.8" y2="350.46" stroke-width="0.85"/>
<line x1="744" y1="337.07" x2="746.6" y2="337.07" stroke-width="0.85"/>
<line x1="744" y1="323.68" x2="749.8" y2="323.68" stroke-width="0.85"/>
<line x1="744" y1="310.29" x2="746.6" y2="310.29" stroke-width="0.85"/>
<line x1="744" y1="296.90" x2="749.8" y2="296.90" stroke-width="0.85"/>
<line x1="744" y1="283.51" x2="746.6" y2="283.51" stroke-width="0.85"/>
<line x1="744" y1="270.12" x2="749.8" y2="270.12" stroke-width="0.85"/>
<line x1="744" y1="256.73" x2="746.6" y2="256.73" stroke-width="0.85"/>
<line x1="744" y1="243.34" x2="749.8" y2="243.34" stroke-width="0.85"/>
<line x1="744" y1="229.95" x2="746.6" y2="229.95" stroke-width="0.85"/>
<line x1="744" y1="216.56" x2="749.8" y2="216.56" stroke-width="0.85"/>
<line x1="744" y1="203.17" x2="746.6" y2="203.17" stroke-width="0.85"/>
<line x1="744" y1="189.78" x2="749.8" y2="189.78" stroke-width="0.85"/>
<line x1="744" y1="176.39" x2="746.6" y2="176.39" stroke-width="0.85"/>
<line x1="744" y1="163.00" x2="749.8" y2="163.00" stroke-width="0.85"/>
<line x1="744" y1="149.61" x2="746.6" y2="149.61" stroke-width="0.85"/>
<line x1="744" y1="136.22" x2="749.8" y2="136.22" stroke-width="0.85"/>
<line x1="744" y1="122.83" x2="746.6" y2="122.83" stroke-width="0.85"/>
<line x1="744" y1="109.44" x2="749.8" y2="109.44" stroke-width="0.85"/>
<line x1="744" y1="96.05" x2="746.6" y2="96.05" stroke-width="0.85"/>
<line x1="744" y1="82.66" x2="749.8" y2="82.66" stroke-width="0.85"/>
<line x1="744" y1="69.27" x2="746.6" y2="69.27" stroke-width="0.85"/>
</g>
<g font-family="Liberation Sans, Arial, Helvetica, sans-serif" fill="#000">
<g font-size="12px">
<text x="35.6" y="434.00" text-anchor="end">0 m</text>
<text x="35.6" y="346.10" text-anchor="end">1 m</text>
<text x="35.6" y="258.20" text-anchor="end">2 m</text>
<text x="35.6" y="170.30" text-anchor="end">3 m</text>
<text x="35.6" y="82.40" text-anchor="end">4 m</text>
<text x="781" y="462.18" text-anchor="end">−1 ft</text>
<text x="781" y="435.40" text-anchor="end">0 ft</text>
<text x="781" y="408.62" text-anchor="end">1 ft</text>
<text x="781" y="381.84" text-anchor="end">2 ft</text>
<text x="781" y="355.06" text-anchor="end">3 ft</text>
<text x="781" y="328.28" text-anchor="end">4 ft</text>
<text x="781" y="301.50" text-anchor="end">5 ft</text>
<text x="781" y="274.72" text-anchor="end">6 ft</text>
<text x="781" y="247.94" text-anchor="end">7 ft</text>
<text x="781" y="221.16" text-anchor="end">8 ft</text>
<text x="781" y="194.38" text-anchor="end">9 ft</text>
<text x="781" y="167.60" text-anchor="end">10 ft</text>
<text x="781" y="140.82" text-anchor="end">11 ft</text>
<text x="781" y="114.04" text-anchor="end">12 ft</text>
<text x="781" y="87.26" text-anchor="end">13 ft</text>
</g>
<text x="396.4" y="13.9" font-size="16.7px" text-anchor="middle" xml:space="preserve" style="white-space:pre">Bell Block Reef: rising  ordinary tide at 2.8m (9.2ft)</text>
<text x="396.6" y="28.6" font-size="11px" font-weight="bold" text-anchor="middle">Image captured 53 minutes before high water. Times are NZST (UTC +12.0hrs)</text>
<g font-size="11px" fill="#ff0000" text-anchor="middle">
<text x="109.29" y="41.1">Tue</text>
<text x="109.29" y="54.0">31−Aug</text>
<text x="185.88" y="41.1">Wed</text>
<text x="185.88" y="54.0">01−Sep</text>
<text x="262.46" y="41.1">Thu</text>
<text x="262.46" y="54.0">02−Sep</text>
<text x="339.04" y="41.1">Fri</text>
<text x="339.04" y="54.0">03−Sep</text>
<text x="415.63" y="41.1">Sat</text>
<text x="415.63" y="54.0">04−Sep</text>
<text x="492.21" y="41.1">Sun</text>
<text x="492.21" y="54.0">05−Sep</text>
<text x="568.80" y="41.1">Mon</text>
<text x="568.80" y="54.0">06−Sep</text>
<text x="645.38" y="41.1">Tue</text>
<text x="645.38" y="54.0">07−Sep</text>
<text x="721.96" y="41.1">Wed</text>
<text x="721.96" y="54.0">08−Sep</text>
</g>
<g font-size="10px" text-anchor="middle" stroke="#000" stroke-width="0.1">
<text transform="translate(101.42 331.78) rotate(0.2) scale(0.945 1)">1.23 m</text>
<text transform="translate(101.42 342.08) rotate(0.2) scale(0.945 1)">4.0 ft</text>
<text transform="translate(101.42 351.08) rotate(0.2) scale(0.945 1)">9:32 am</text>
<text transform="translate(122.06 175.16) rotate(0.2) scale(0.945 1)">4:00 pm</text>
<text transform="translate(122.06 183.26) rotate(0.2) scale(0.945 1)">8.7 ft</text>
<text transform="translate(122.06 193.36) rotate(0.2) scale(0.945 1)">2.65 m</text>
<text transform="translate(142.21 319.48) rotate(0.2) scale(0.945 1)">1.37 m</text>
<text transform="translate(142.21 329.78) rotate(0.2) scale(0.945 1)">4.5 ft</text>
<text transform="translate(142.21 338.78) rotate(0.2) scale(0.945 1)">10:19 pm</text>
<text transform="translate(161.84 180.44) rotate(0.2) scale(0.945 1)">4:28 am</text>
<text transform="translate(161.84 188.54) rotate(0.2) scale(0.945 1)">8.5 ft</text>
<text transform="translate(161.84 198.64) rotate(0.2) scale(0.945 1)">2.59 m</text>
<text transform="translate(181.94 323.87) rotate(0.2) scale(0.945 1)">1.32 m</text>
<text transform="translate(181.94 334.17) rotate(0.2) scale(0.945 1)">4.3 ft</text>
<text transform="translate(181.94 343.17) rotate(0.2) scale(0.945 1)">10:46 am</text>
<text transform="translate(203.32 176.04) rotate(0.2) scale(0.945 1)">5:28 pm</text>
<text transform="translate(203.32 184.14) rotate(0.2) scale(0.945 1)">8.7 ft</text>
<text transform="translate(203.32 194.24) rotate(0.2) scale(0.945 1)">2.64 m</text>
<text transform="translate(223.26 319.48) rotate(0.2) scale(0.945 1)">1.37 m</text>
<text transform="translate(223.26 329.78) rotate(0.2) scale(0.945 1)">4.5 ft</text>
<text transform="translate(223.26 338.78) rotate(0.2) scale(0.945 1)">11:43 pm</text>
<text transform="translate(242.73 178.68) rotate(0.2) scale(0.945 1)">5:49 am</text>
<text transform="translate(242.73 186.78) rotate(0.2) scale(0.945 1)">8.6 ft</text>
<text transform="translate(242.73 196.88) rotate(0.2) scale(0.945 1)">2.61 m</text>
<text transform="translate(263.26 327.39) rotate(0.2) scale(0.945 1)">1.28 m</text>
<text transform="translate(263.26 337.69) rotate(0.2) scale(0.945 1)">4.2 ft</text>
<text transform="translate(263.26 346.69) rotate(0.2) scale(0.945 1)">12:15 pm</text>
<text transform="translate(283.73 166.37) rotate(0.2) scale(0.945 1)">6:40 pm</text>
<text transform="translate(283.73 174.47) rotate(0.2) scale(0.945 1)">9.0 ft</text>
<text transform="translate(283.73 184.57) rotate(0.2) scale(0.945 1)">2.75 m</text>
<text transform="translate(303.68 331.78) rotate(0.2) scale(0.945 1)">1.23 m</text>
<text transform="translate(303.68 342.08) rotate(0.2) scale(0.945 1)">4.0 ft</text>
<text transform="translate(303.68 351.08) rotate(0.2) scale(0.945 1)">12:55 am</text>
<text transform="translate(322.93 169.01) rotate(0.2) scale(0.945 1)">6:57 am</text>
<text transform="translate(322.93 177.11) rotate(0.2) scale(0.945 1)">8.9 ft</text>
<text transform="translate(322.93 187.21) rotate(0.2) scale(0.945 1)">2.72 m</text>
<text transform="translate(343.25 341.45) rotate(0.2) scale(0.945 1)">1.12 m</text>
<text transform="translate(343.25 351.75) rotate(0.2) scale(0.945 1)">3.7 ft</text>
<text transform="translate(343.25 360.75) rotate(0.2) scale(0.945 1)">1:19 pm</text>
<text transform="translate(363.14 150.55) rotate(0.2) scale(0.945 1)">7:33 pm</text>
<text transform="translate(363.14 158.65) rotate(0.2) scale(0.945 1)">9.6 ft</text>
<text transform="translate(363.14 168.75) rotate(0.2) scale(0.945 1)">2.93 m</text>
<text transform="translate(383.03 349.36) rotate(0.2) scale(0.945 1)">1.03 m</text>
<text transform="translate(383.03 359.66) rotate(0.2) scale(0.945 1)">3.4 ft</text>
<text transform="translate(383.03 368.66) rotate(0.2) scale(0.945 1)">1:47 am</text>
<text transform="translate(402.39 153.19) rotate(0.2) scale(0.945 1)">7:51 am</text>
<text transform="translate(402.39 161.29) rotate(0.2) scale(0.945 1)">9.5 ft</text>
<text transform="translate(402.39 171.39) rotate(0.2) scale(0.945 1)">2.90 m</text>
<text transform="translate(422.38 359.91) rotate(0.2) scale(0.945 1)">0.91 m</text>
<text transform="translate(422.38 370.21) rotate(0.2) scale(0.945 1)">3.0 ft</text>
<text transform="translate(422.38 379.21) rotate(0.2) scale(0.945 1)">2:07 pm</text>
<text transform="translate(442.06 132.97) rotate(0.2) scale(0.945 1)">8:17 pm</text>
<text transform="translate(442.06 141.07) rotate(0.2) scale(0.945 1)">10.3 ft</text>
<text transform="translate(442.06 151.17) rotate(0.2) scale(0.945 1)">3.13 m</text>
<text transform="translate(461.84 368.70) rotate(0.2) scale(0.945 1)">0.81 m</text>
<text transform="translate(461.84 379.00) rotate(0.2) scale(0.945 1)">2.7 ft</text>
<text transform="translate(461.84 388.00) rotate(0.2) scale(0.945 1)">2:29 am</text>
<text transform="translate(481.31 136.49) rotate(0.2) scale(0.945 1)">8:35 am</text>
<text transform="translate(481.31 144.59) rotate(0.2) scale(0.945 1)">10.1 ft</text>
<text transform="translate(481.31 154.69) rotate(0.2) scale(0.945 1)">3.09 m</text>
<text transform="translate(501.15 379.25) rotate(0.2) scale(0.945 1)">0.69 m</text>
<text transform="translate(501.15 389.55) rotate(0.2) scale(0.945 1)">2.3 ft</text>
<text transform="translate(501.15 398.55) rotate(0.2) scale(0.945 1)">2:48 pm</text>
<text transform="translate(520.72 115.39) rotate(0.2) scale(0.945 1)">8:56 pm</text>
<text transform="translate(520.72 123.49) rotate(0.2) scale(0.945 1)">10.9 ft</text>
<text transform="translate(520.72 133.59) rotate(0.2) scale(0.945 1)">3.33 m</text>
<text transform="translate(540.50 388.04) rotate(0.2) scale(0.945 1)">0.59 m</text>
<text transform="translate(540.50 398.34) rotate(0.2) scale(0.945 1)">1.9 ft</text>
<text transform="translate(540.50 407.34) rotate(0.2) scale(0.945 1)">3:08 am</text>
<text transform="translate(560.02 119.79) rotate(0.2) scale(0.945 1)">9:15 am</text>
<text transform="translate(560.02 127.89) rotate(0.2) scale(0.945 1)">10.8 ft</text>
<text transform="translate(560.02 137.99) rotate(0.2) scale(0.945 1)">3.28 m</text>
<text transform="translate(579.70 396.83) rotate(0.2) scale(0.945 1)">0.49 m</text>
<text transform="translate(579.70 407.13) rotate(0.2) scale(0.945 1)">1.6 ft</text>
<text transform="translate(579.70 416.13) rotate(0.2) scale(0.945 1)">3:25 pm</text>
<text transform="translate(599.27 98.69) rotate(0.2) scale(0.945 1)">9:33 pm</text>
<text transform="translate(599.27 106.79) rotate(0.2) scale(0.945 1)">11.5 ft</text>
<text transform="translate(599.27 116.89) rotate(0.2) scale(0.945 1)">3.52 m</text>
<text transform="translate(619.11 404.74) rotate(0.2) scale(0.945 1)">0.40 m</text>
<text transform="translate(619.11 415.04) rotate(0.2) scale(0.945 1)">1.3 ft</text>
<text transform="translate(619.11 424.04) rotate(0.2) scale(0.945 1)">3:46 am</text>
<text transform="translate(638.63 104.84) rotate(0.2) scale(0.945 1)">9:53 am</text>
<text transform="translate(638.63 112.94) rotate(0.2) scale(0.945 1)">11.3 ft</text>
<text transform="translate(638.63 123.04) rotate(0.2) scale(0.945 1)">3.45 m</text>
<text transform="translate(658.25 410.89) rotate(0.2) scale(0.945 1)">0.33 m</text>
<text transform="translate(658.25 421.19) rotate(0.2) scale(0.945 1)">1.1 ft</text>
<text transform="translate(658.25 430.19) rotate(0.2) scale(0.945 1)">4:02 pm</text>
<text transform="translate(677.82 85.51) rotate(0.2) scale(0.945 1)">10:10 pm</text>
<text transform="translate(677.82 93.61) rotate(0.2) scale(0.945 1)">12.0 ft</text>
<text transform="translate(677.82 103.71) rotate(0.2) scale(0.945 1)">3.67 m</text>
<text transform="translate(697.71 416.17) rotate(0.2) scale(0.945 1)">0.27 m</text>
<text transform="translate(697.71 426.47) rotate(0.2) scale(0.945 1)">0.9 ft</text>
<text transform="translate(697.71 435.47) rotate(0.2) scale(0.945 1)">4:24 am</text>
</g>
<circle cx="101.42" cy="321.58" r="1.75" fill="#000"/>
<circle cx="122.06" cy="196.76" r="1.75" fill="#000"/>
<circle cx="142.21" cy="309.28" r="1.75" fill="#000"/>
<circle cx="161.84" cy="202.04" r="1.75" fill="#000"/>
<circle cx="181.94" cy="313.67" r="1.75" fill="#000"/>
<circle cx="203.32" cy="197.64" r="1.75" fill="#000"/>
<circle cx="223.26" cy="309.28" r="1.75" fill="#000"/>
<circle cx="242.73" cy="200.28" r="1.75" fill="#000"/>
<circle cx="263.26" cy="317.19" r="1.75" fill="#000"/>
<circle cx="283.73" cy="187.97" r="1.75" fill="#000"/>
<circle cx="303.68" cy="321.58" r="1.75" fill="#000"/>
<circle cx="322.93" cy="190.61" r="1.75" fill="#000"/>
<circle cx="343.25" cy="331.25" r="1.75" fill="#000"/>
<circle cx="363.14" cy="172.15" r="1.75" fill="#000"/>
<circle cx="383.03" cy="339.16" r="1.75" fill="#000"/>
<circle cx="402.39" cy="174.79" r="1.75" fill="#000"/>
<circle cx="422.38" cy="349.71" r="1.75" fill="#000"/>
<circle cx="442.06" cy="154.57" r="1.75" fill="#000"/>
<circle cx="461.84" cy="358.50" r="1.75" fill="#000"/>
<circle cx="481.31" cy="158.09" r="1.75" fill="#000"/>
<circle cx="501.15" cy="369.05" r="1.75" fill="#000"/>
<circle cx="520.72" cy="136.99" r="1.75" fill="#000"/>
<circle cx="540.50" cy="377.84" r="1.75" fill="#000"/>
<circle cx="560.02" cy="141.39" r="1.75" fill="#000"/>
<circle cx="579.70" cy="386.63" r="1.75" fill="#000"/>
<circle cx="599.27" cy="120.29" r="1.75" fill="#000"/>
<circle cx="619.11" cy="394.54" r="1.75" fill="#000"/>
<circle cx="638.63" cy="126.44" r="1.75" fill="#000"/>
<circle cx="658.25" cy="400.69" r="1.75" fill="#000"/>
<circle cx="677.82" cy="107.11" r="1.75" fill="#000"/>
<circle cx="697.71" cy="405.97" r="1.75" fill="#000"/>
<polygon points="395.27,186.50 403.87,186.50 399.57,177.90" fill="#f2ea38" stroke="#555" stroke-width="0.8"/>
<g font-size="11px">
<text x="46.4" y="480.00" text-anchor="end">Sunrise</text>
<text x="746.0" y="480.00">Sunrise</text>
<text x="46.4" y="493.50" text-anchor="end">Sunset</text>
<text x="746.0" y="493.50">Sunset</text>
<text x="46.4" y="507.00" text-anchor="end">Moonrise</text>
<text x="746.0" y="507.00">Moonrise</text>
<text x="46.4" y="520.50" text-anchor="end">Moonset</text>
<text x="746.0" y="520.50">Moonset</text>
</g>
<g font-size="10px" fill="#1a1a1a">
<polygon points="169.18,469.10 170.59,474.06 175.74,473.87 171.46,476.74 173.23,481.58 169.18,478.40 165.12,481.58 166.89,476.74 162.61,473.87 167.77,474.06" fill="#8a7a24" stroke="#4c3e0e" stroke-width="0.7" stroke-linejoin="miter"/>
<circle cx="169.18" cy="476.15" r="4.15" fill="#b8b838" stroke="#55470f" stroke-width="0.7"/>
<text transform="translate(175.78 479.70) rotate(0.2) scale(0.945 1)">6:46am</text>
<polygon points="245.65,469.10 247.06,474.06 252.22,473.87 247.94,476.74 249.71,481.58 245.65,478.40 241.60,481.58 243.37,476.74 239.09,473.87 244.24,474.06" fill="#8a7a24" stroke="#4c3e0e" stroke-width="0.7" stroke-linejoin="miter"/>
<circle cx="245.65" cy="476.15" r="4.15" fill="#b8b838" stroke="#55470f" stroke-width="0.7"/>
<text transform="translate(252.25 479.70) rotate(0.2) scale(0.945 1)">6:44am</text>
<polygon points="322.18,469.10 323.60,474.06 328.75,473.87 324.47,476.74 326.24,481.58 322.18,478.40 318.13,481.58 319.90,476.74 315.62,473.87 320.77,474.06" fill="#8a7a24" stroke="#4c3e0e" stroke-width="0.7" stroke-linejoin="miter"/>
<circle cx="322.18" cy="476.15" r="4.15" fill="#b8b838" stroke="#55470f" stroke-width="0.7"/>
<text transform="translate(328.78 479.70) rotate(0.2) scale(0.945 1)">6:43am</text>
<polygon points="398.66,469.10 400.07,474.06 405.22,473.87 400.95,476.74 402.72,481.58 398.66,478.40 394.61,481.58 396.38,476.74 392.10,473.87 397.25,474.06" fill="#8a7a24" stroke="#4c3e0e" stroke-width="0.7" stroke-linejoin="miter"/>
<circle cx="398.66" cy="476.15" r="4.15" fill="#b8b838" stroke="#55470f" stroke-width="0.7"/>
<text transform="translate(405.26 479.70) rotate(0.2) scale(0.945 1)">6:41am</text>
<polygon points="475.19,469.10 476.60,474.06 481.76,473.87 477.48,476.74 479.25,481.58 475.19,478.40 471.14,481.58 472.91,476.74 468.63,473.87 473.78,474.06" fill="#8a7a24" stroke="#4c3e0e" stroke-width="0.7" stroke-linejoin="miter"/>
<circle cx="475.19" cy="476.15" r="4.15" fill="#b8b838" stroke="#55470f" stroke-width="0.7"/>
<text transform="translate(481.79 479.70) rotate(0.2) scale(0.945 1)">6:40am</text>
<polygon points="551.67,469.10 553.08,474.06 558.23,473.87 553.95,476.74 555.73,481.58 551.67,478.40 547.62,481.58 549.39,476.74 545.11,473.87 550.26,474.06" fill="#8a7a24" stroke="#4c3e0e" stroke-width="0.7" stroke-linejoin="miter"/>
<circle cx="551.67" cy="476.15" r="4.15" fill="#b8b838" stroke="#55470f" stroke-width="0.7"/>
<text transform="translate(558.27 479.70) rotate(0.2) scale(0.945 1)">6:38am</text>
<polygon points="628.20,469.10 629.61,474.06 634.76,473.87 630.48,476.74 632.26,481.58 628.20,478.40 624.15,481.58 625.92,476.74 621.64,473.87 626.79,474.06" fill="#8a7a24" stroke="#4c3e0e" stroke-width="0.7" stroke-linejoin="miter"/>
<circle cx="628.20" cy="476.15" r="4.15" fill="#b8b838" stroke="#55470f" stroke-width="0.7"/>
<text transform="translate(634.80 479.70) rotate(0.2) scale(0.945 1)">6:37am</text>
<polygon points="128.38,482.60 129.80,487.56 134.95,487.37 130.67,490.24 132.44,495.08 128.38,491.90 124.33,495.08 126.10,490.24 121.82,487.37 126.97,487.56" fill="#8a7a24" stroke="#4c3e0e" stroke-width="0.7" stroke-linejoin="miter"/>
<circle cx="128.38" cy="489.65" r="4.15" fill="#e03e36" stroke="#5a3c10" stroke-width="0.7"/>
<text transform="translate(134.88 493.70) rotate(0.2) scale(0.945 1)">5:59pm</text>
<polygon points="205.02,482.60 206.43,487.56 211.58,487.37 207.30,490.24 209.08,495.08 205.02,491.90 200.97,495.08 202.74,490.24 198.46,487.37 203.61,487.56" fill="#8a7a24" stroke="#4c3e0e" stroke-width="0.7" stroke-linejoin="miter"/>
<circle cx="205.02" cy="489.65" r="4.15" fill="#e03e36" stroke="#5a3c10" stroke-width="0.7"/>
<text transform="translate(211.52 493.70) rotate(0.2) scale(0.945 1)">6:00pm</text>
<polygon points="281.66,482.60 283.07,487.56 288.22,487.37 283.94,490.24 285.71,495.08 281.66,491.90 277.60,495.08 279.38,490.24 275.10,487.37 280.25,487.56" fill="#8a7a24" stroke="#4c3e0e" stroke-width="0.7" stroke-linejoin="miter"/>
<circle cx="281.66" cy="489.65" r="4.15" fill="#e03e36" stroke="#5a3c10" stroke-width="0.7"/>
<text transform="translate(288.16 493.70) rotate(0.2) scale(0.945 1)">6:01pm</text>
<polygon points="358.30,482.60 359.71,487.56 364.86,487.37 360.58,490.24 362.35,495.08 358.30,491.90 354.24,495.08 356.01,490.24 351.73,487.37 356.89,487.56" fill="#8a7a24" stroke="#4c3e0e" stroke-width="0.7" stroke-linejoin="miter"/>
<circle cx="358.30" cy="489.65" r="4.15" fill="#e03e36" stroke="#5a3c10" stroke-width="0.7"/>
<text transform="translate(364.80 493.70) rotate(0.2) scale(0.945 1)">6:02pm</text>
<polygon points="434.93,482.60 436.34,487.56 441.50,487.37 437.22,490.24 438.99,495.08 434.93,491.90 430.88,495.08 432.65,490.24 428.37,487.37 433.52,487.56" fill="#8a7a24" stroke="#4c3e0e" stroke-width="0.7" stroke-linejoin="miter"/>
<circle cx="434.93" cy="489.65" r="4.15" fill="#e03e36" stroke="#5a3c10" stroke-width="0.7"/>
<text transform="translate(441.43 493.70) rotate(0.2) scale(0.945 1)">6:03pm</text>
<polygon points="511.57,482.60 512.98,487.56 518.13,487.37 513.85,490.24 515.63,495.08 511.57,491.90 507.52,495.08 509.29,490.24 505.01,487.37 510.16,487.56" fill="#8a7a24" stroke="#4c3e0e" stroke-width="0.7" stroke-linejoin="miter"/>
<circle cx="511.57" cy="489.65" r="4.15" fill="#e03e36" stroke="#5a3c10" stroke-width="0.7"/>
<text transform="translate(518.07 493.70) rotate(0.2) scale(0.945 1)">6:04pm</text>
<polygon points="588.21,482.60 589.62,487.56 594.77,487.37 590.49,490.24 592.26,495.08 588.21,491.90 584.15,495.08 585.93,490.24 581.65,487.37 586.80,487.56" fill="#8a7a24" stroke="#4c3e0e" stroke-width="0.7" stroke-linejoin="miter"/>
<circle cx="588.21" cy="489.65" r="4.15" fill="#e03e36" stroke="#5a3c10" stroke-width="0.7"/>
<text transform="translate(594.71 493.70) rotate(0.2) scale(0.945 1)">6:05pm</text>
<polygon points="664.79,482.60 666.20,487.56 671.35,487.37 667.07,490.24 668.85,495.08 664.79,491.90 660.74,495.08 662.51,490.24 658.23,487.37 663.38,487.56" fill="#8a7a24" stroke="#4c3e0e" stroke-width="0.7" stroke-linejoin="miter"/>
<circle cx="664.79" cy="489.65" r="4.15" fill="#e03e36" stroke="#5a3c10" stroke-width="0.7"/>
<text transform="translate(671.29 493.70) rotate(0.2) scale(0.945 1)">6:05pm</text>
<circle cx="155.99" cy="503.00" r="5.0" fill="#ffffcc" stroke="#808080" stroke-width="0.8"/>
<text transform="translate(162.79 506.40) rotate(0.2) scale(0.945 1)">2:38am</text>
<circle cx="235.55" cy="503.00" r="5.0" fill="#ffffcc" stroke="#808080" stroke-width="0.8"/>
<text transform="translate(242.35 506.40) rotate(0.2) scale(0.945 1)">3:34am</text>
<circle cx="314.85" cy="503.00" r="5.0" fill="#ffffcc" stroke="#808080" stroke-width="0.8"/>
<text transform="translate(321.65 506.40) rotate(0.2) scale(0.945 1)">4:25am</text>
<circle cx="393.88" cy="503.00" r="5.0" fill="#ffffcc" stroke="#808080" stroke-width="0.8"/>
<text transform="translate(400.68 506.40) rotate(0.2) scale(0.945 1)">5:11am</text>
<circle cx="472.59" cy="503.00" r="5.0" fill="#ffffcc" stroke="#808080" stroke-width="0.8"/>
<text transform="translate(479.39 506.40) rotate(0.2) scale(0.945 1)">5:51am</text>
<circle cx="551.03" cy="503.00" r="5.0" fill="#ffffcc" stroke="#808080" stroke-width="0.8"/>
<text transform="translate(557.83 506.40) rotate(0.2) scale(0.945 1)">6:26am</text>
<circle cx="629.27" cy="503.00" r="5.0" fill="#ffffcc" stroke="#808080" stroke-width="0.8"/>
<text transform="translate(636.07 506.40) rotate(0.2) scale(0.945 1)">6:57am</text>
<circle cx="107.06" cy="516.50" r="5.0" fill="#c9c5b3" stroke="#777" stroke-width="0.8"/>
<text transform="translate(113.56 520.30) rotate(0.2) scale(0.945 1)">11:18am</text>
<circle cx="185.82" cy="516.50" r="5.0" fill="#c9c5b3" stroke="#777" stroke-width="0.8"/>
<text transform="translate(192.32 520.30) rotate(0.2) scale(0.945 1)">11:59am</text>
<circle cx="264.96" cy="516.50" r="5.0" fill="#c9c5b3" stroke="#777" stroke-width="0.8"/>
<text transform="translate(271.46 520.30) rotate(0.2) scale(0.945 1)">12:47pm</text>
<circle cx="344.52" cy="516.50" r="5.0" fill="#c9c5b3" stroke="#777" stroke-width="0.8"/>
<text transform="translate(351.02 520.30) rotate(0.2) scale(0.945 1)">1:43pm</text>
<circle cx="424.40" cy="516.50" r="5.0" fill="#c9c5b3" stroke="#777" stroke-width="0.8"/>
<text transform="translate(430.90 520.30) rotate(0.2) scale(0.945 1)">2:45pm</text>
<circle cx="504.44" cy="516.50" r="5.0" fill="#c9c5b3" stroke="#777" stroke-width="0.8"/>
<text transform="translate(510.94 520.30) rotate(0.2) scale(0.945 1)">3:50pm</text>
<circle cx="584.64" cy="516.50" r="5.0" fill="#c9c5b3" stroke="#777" stroke-width="0.8"/>
<text transform="translate(591.14 520.30) rotate(0.2) scale(0.945 1)">4:58pm</text>
<circle cx="664.90" cy="516.50" r="5.0" fill="#c9c5b3" stroke="#777" stroke-width="0.8"/>
<text transform="translate(671.40 520.30) rotate(0.2) scale(0.945 1)">6:07pm</text>
<text transform="translate(644.75 533.30) rotate(0.2) scale(0.945 1)" text-anchor="end">New Moon</text>
<text transform="translate(648.05 534.50) rotate(0.2) scale(0.945 1)" text-anchor="middle">|</text>
<text transform="translate(651.95 533.30) rotate(0.2) scale(0.945 1)">12:52pm</text>
</g>
</g>
</svg>
</body></html>
